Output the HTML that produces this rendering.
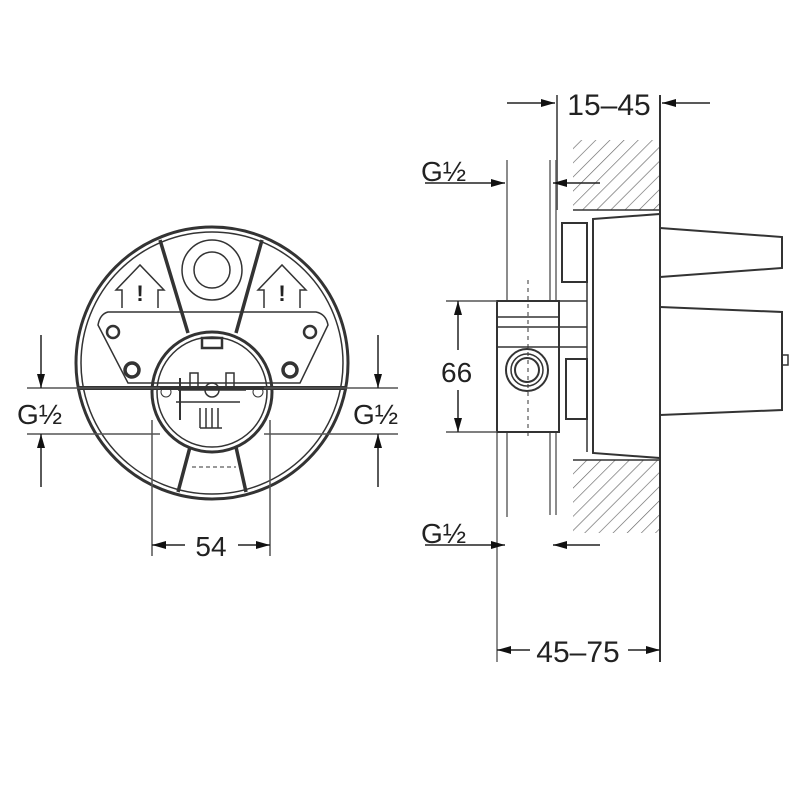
<!DOCTYPE html>
<html><head><meta charset="utf-8"><style>
html,body{margin:0;padding:0;background:#fff}
svg{display:block}
text{font-family:"Liberation Sans",sans-serif;fill:#222}
</style></head><body>
<svg width="800" height="800" viewBox="0 0 800 800" xmlns="http://www.w3.org/2000/svg">
<defs>
<marker id="a" viewBox="0 0 14 10" refX="14" refY="5" markerWidth="14" markerHeight="10" orient="auto-start-reverse" markerUnits="userSpaceOnUse">
<path d="M0,1 L14,5 L0,9 z" fill="#111"/></marker>
<pattern id="h" width="10" height="10" patternUnits="userSpaceOnUse" patternTransform="rotate(45)">
<line x1="0" y1="0" x2="0" y2="10" stroke="#666" stroke-width="1.3"/></pattern>
</defs>
<g fill="none" stroke="#333">
<circle cx="212" cy="363" r="136" stroke-width="3"/>
<circle cx="212" cy="363" r="131" stroke-width="1.5"/>
<path d="M108,312 L316,312 Q326,314 328,325 L300,383 L128,383 L98,325 Q100,314 108,312 Z" stroke-width="1.5"/>
<line x1="78" y1="388" x2="346" y2="388" stroke-width="4"/>
<path d="M160,240 L188,333 M262,240 L236,333" stroke-width="3.5"/>
<path d="M190,447 L178,492 M236,447 L246,492" stroke-width="3.5"/>
<line x1="192" y1="467" x2="236" y2="467" stroke-width="1" stroke-dasharray="4,3"/>
<circle cx="212" cy="270" r="30" stroke-width="1.5"/>
<circle cx="212" cy="270" r="18" stroke-width="1.5"/>
<path d="M122,308 L122,290 L116,290 L140,265 L164,290 L158,290 L158,308" stroke-width="1.5"/>
<path d="M264,308 L264,290 L258,290 L282,265 L306,290 L300,290 L300,308" stroke-width="1.5"/>
<circle cx="113" cy="332" r="6" stroke-width="2.5"/>
<circle cx="310" cy="332" r="6" stroke-width="2.5"/>
<circle cx="132" cy="370" r="7" stroke-width="3.5"/>
<circle cx="290" cy="370" r="7" stroke-width="3.5"/>
<circle cx="212" cy="392" r="60" stroke-width="3"/>
<circle cx="212" cy="392" r="55" stroke-width="1.5"/>
<rect x="202" y="338" width="20" height="10" stroke-width="2.5"/>
<path d="M178,390 L246,390 M176,402 L240,402" stroke-width="1.5"/>
<circle cx="212" cy="390" r="7" stroke-width="1.5"/>
<circle cx="166" cy="392" r="5" stroke-width="1"/>
<circle cx="258" cy="392" r="5" stroke-width="1"/>
<rect x="190" y="373" width="8" height="16" stroke-width="1.5"/>
<rect x="226" y="373" width="8" height="16" stroke-width="1.5"/>
<path d="M200,408 L200,428 M206,408 L206,428 M212,408 L212,428 M218,408 L218,428 M200,428 L222,428" stroke-width="1.5"/>
<line x1="180" y1="378" x2="180" y2="420" stroke-width="2"/>
<g stroke="#555" stroke-width="1.5">
<line x1="27" y1="388" x2="160" y2="388"/>
<line x1="27" y1="434" x2="160" y2="434"/>
<line x1="264" y1="388" x2="398" y2="388"/>
<line x1="264" y1="434" x2="398" y2="434"/>
<line x1="152" y1="420" x2="152" y2="556"/>
<line x1="270" y1="420" x2="270" y2="556"/>
</g>
<g stroke="#222" stroke-width="1.5">
<line x1="41" y1="335" x2="41" y2="388" marker-end="url(#a)"/>
<line x1="41" y1="487" x2="41" y2="434" marker-end="url(#a)"/>
<line x1="378" y1="335" x2="378" y2="388" marker-end="url(#a)"/>
<line x1="378" y1="487" x2="378" y2="434" marker-end="url(#a)"/>
<line x1="185" y1="545" x2="152" y2="545" marker-end="url(#a)"/>
<line x1="238" y1="545" x2="270" y2="545" marker-end="url(#a)"/>
</g>

<rect x="573" y="140" width="87" height="70" fill="url(#h)" stroke="none"/>
<rect x="573" y="460" width="87" height="73" fill="url(#h)" stroke="none"/>
<line x1="573" y1="210" x2="660" y2="210" stroke-width="1.5"/>
<line x1="573" y1="460" x2="660" y2="460" stroke-width="1.5"/>
<line x1="660" y1="95" x2="660" y2="662" stroke-width="2"/>
<line x1="557" y1="95" x2="557" y2="210" stroke-width="1.5"/>
<line x1="550" y1="160" x2="550" y2="515" stroke-width="1.5" stroke="#666"/>
<line x1="556" y1="160" x2="556" y2="515" stroke-width="1.5" stroke="#666"/>
<line x1="497" y1="300" x2="497" y2="662" stroke-width="1.5" stroke="#666"/>
<line x1="507" y1="160" x2="507" y2="517" stroke-width="1.5" stroke="#666"/>
<path d="M593,219 L660,214 L660,458 L593,453 Z" stroke-width="2" fill="#fff"/>
<line x1="587" y1="222" x2="587" y2="452" stroke-width="1.5"/>
<rect x="562" y="223" width="25" height="59" stroke-width="2" fill="#fff"/>
<rect x="566" y="359" width="21" height="60" stroke-width="2" fill="#fff"/>
<path d="M660,228 L782,237 L782,268 L660,277" stroke-width="2"/>
<path d="M660,307 L782,312 L782,410 L660,415" stroke-width="2"/>
<rect x="782" y="355" width="6" height="10" stroke-width="1.5"/>
<rect x="497" y="301" width="62" height="131" stroke-width="2" fill="#fff"/>
<path d="M497,317 L559,317 M497,327 L587,327 M497,347 L587,347 M559,301 L587,301" stroke-width="1.5"/>
<line x1="528" y1="280" x2="528" y2="440" stroke-width="1" stroke-dasharray="4,4"/>
<circle cx="527" cy="370" r="21" stroke-width="2"/>
<circle cx="527" cy="370" r="16" stroke-width="1.5"/>
<circle cx="527" cy="370" r="12" stroke-width="2"/>
<g stroke="#555" stroke-width="1.5">
<line x1="446" y1="301" x2="497" y2="301"/>
<line x1="446" y1="432" x2="497" y2="432"/>
</g>
<g stroke="#222" stroke-width="1.5">
<line x1="458" y1="350" x2="458" y2="301" marker-end="url(#a)"/>
<line x1="458" y1="390" x2="458" y2="432" marker-end="url(#a)"/>
<line x1="425" y1="183" x2="505" y2="183" marker-end="url(#a)"/>
<line x1="600" y1="183" x2="553" y2="183" marker-end="url(#a)"/>
<line x1="425" y1="545" x2="505" y2="545" marker-end="url(#a)"/>
<line x1="600" y1="545" x2="553" y2="545" marker-end="url(#a)"/>
<line x1="507" y1="103" x2="555" y2="103" marker-end="url(#a)"/>
<line x1="710" y1="103" x2="662" y2="103" marker-end="url(#a)"/>
<line x1="530" y1="650" x2="497" y2="650" marker-end="url(#a)"/>
<line x1="628" y1="650" x2="660" y2="650" marker-end="url(#a)"/>
</g>
</g>
<g font-size="22" font-weight="bold" text-anchor="middle">
<text x="140" y="301">!</text>
<text x="282" y="301">!</text>
</g>
<g font-size="28">
<text x="17" y="424">G½</text>
<text x="353" y="424">G½</text>
<text x="211" y="556" text-anchor="middle">54</text>
<text x="421" y="181">G½</text>
<text x="421" y="543">G½</text>
<text x="441" y="382">66</text>
<text x="609" y="115" text-anchor="middle" font-size="30">15–45</text>
<text x="578" y="662" text-anchor="middle" font-size="30">45–75</text>
</g>
</svg>
</body></html>
